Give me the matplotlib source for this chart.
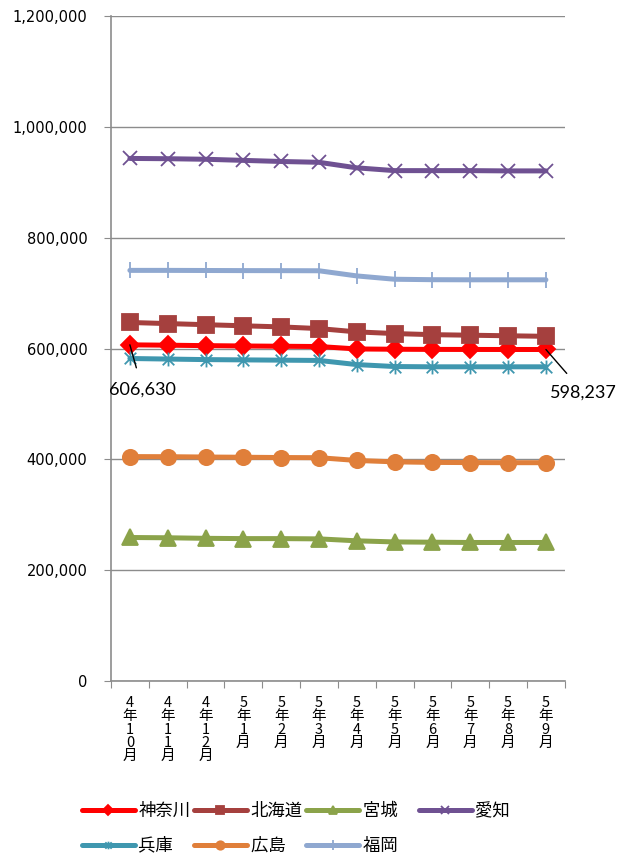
import numpy as np
import matplotlib.pyplot as plt
from matplotlib.path import Path
from matplotlib.ticker import FuncFormatter

plt.rcParams["font.family"] = ["Noto Sans CJK JP", "DejaVu Sans"]

months = ["4\n年\n1\n0\n月", "4\n年\n1\n1\n月", "4\n年\n1\n2\n月", "5\n年\n1\n月",
          "5\n年\n2\n月", "5\n年\n3\n月", "5\n年\n4\n月", "5\n年\n5\n月",
          "5\n年\n6\n月", "5\n年\n7\n月", "5\n年\n8\n月", "5\n年\n9\n月"]

kanagawa = [606630, 606000, 605200, 604600, 604100, 603600, 599200, 598700, 598400, 598300, 598250, 598237]
hokkaido = [647000, 645000, 643000, 641000, 639000, 636000, 630000, 627000, 625000, 624000, 623000, 622000]
miyagi = [259000, 258500, 257500, 257000, 257000, 256500, 253000, 251000, 250500, 250000, 250000, 250000]
aichi = [943000, 942500, 941500, 939500, 937500, 936000, 926000, 921000, 921000, 921000, 920500, 920500]
hyogo = [582000, 581000, 580000, 579500, 579000, 578500, 571000, 567500, 567000, 567000, 567000, 567000]
hiroshima = [405000, 404800, 404200, 403800, 403300, 403000, 398000, 395500, 394500, 394200, 394000, 394000]
fukuoka = [741000, 741000, 740800, 740600, 740500, 740300, 731000, 725000, 724200, 724000, 724000, 724000]

# Excel-style star marker: an x with a vertical stroke
star = Path([(-1, -1), (1, 1), (-1, 1), (1, -1), (0, -1.2), (0, 1.2)],
            [Path.MOVETO, Path.LINETO, Path.MOVETO, Path.LINETO, Path.MOVETO, Path.LINETO])

series = [
    ("神奈川", kanagawa, "#FF0000", "D", 9),
    ("北海道", hokkaido, "#A5403E", "s", 11),
    ("宮城", miyagi, "#8BA34A", "^", 11),
    ("愛知", aichi, "#6F5192", "x", 10),
    ("兵庫", hyogo, "#3F97AF", star, 10),
    ("広島", hiroshima, "#E07F3A", "o", 11),
    ("福岡", fukuoka, "#8FA8D0", "|", 12),
]

fig = plt.figure(figsize=(6.2, 8.56), dpi=100)
ax = fig.add_axes([0.179, 0.2044, 0.732, 0.7769])

x = np.arange(len(months))
handles = {}
for name, vals, color, marker, ms in series:
    line, = ax.plot(x, vals, color=color, linewidth=3.6, marker=marker, markersize=ms,
                    markerfacecolor=color, markeredgecolor=color, markeredgewidth=1.3,
                    label=name, solid_capstyle="round")
    handles[name] = line

ax.set_ylim(0, 1200000)
ax.set_xlim(-0.5, len(months) - 0.5)
ax.set_yticks(np.arange(0, 1200001, 200000))
ax.yaxis.set_major_formatter(FuncFormatter(lambda v, p: f"{int(v):,}"))
ax.grid(True, axis="y", color="#8C8C8C", linewidth=1)
ax.set_axisbelow(True)
for s in ["top", "right"]:
    ax.spines[s].set_visible(False)
ax.spines["left"].set_color("#8C8C8C")
ax.spines["bottom"].set_color("#8C8C8C")
ax.spines["left"].set_linewidth(1.2)
ax.spines["bottom"].set_linewidth(1.2)
ax.tick_params(axis="y", length=5, color="#8C8C8C", direction="out", pad=12)
for lbl in ax.get_yticklabels():
    lbl.set_fontfamily("DejaVu Sans")
    lbl.set_fontsize(10.5)

ax.set_xticks(np.arange(-0.5, len(months), 1))
ax.set_xticklabels([])
ax.tick_params(axis="x", which="major", length=5, color="#8C8C8C", direction="out")
ax.set_xticks(x, minor=True)
ax.set_xticklabels(months, minor=True, fontsize=10.5, linespacing=0.92, va="top")
ax.tick_params(axis="x", which="minor", length=0, pad=11)

ax.annotate(f"{kanagawa[0]:,}", xy=(0, kanagawa[0]), xytext=(9, -32),
            textcoords="offset points", ha="center", va="center", fontsize=13,
            family="Lato",
            arrowprops=dict(arrowstyle="-", color="black", lw=1, shrinkA=8, shrinkB=0))
ax.annotate(f"{kanagawa[-1]:,}", xy=(11, kanagawa[-1]), xytext=(27, -31),
            textcoords="offset points", ha="center", va="center", fontsize=13,
            family="Lato",
            arrowprops=dict(arrowstyle="-", color="black", lw=1, shrinkA=8, shrinkB=0))

# pad the two-character labels with an ideographic space so columns are equal width
order = ["神奈川", "兵庫", "北海道", "広島", "宮城", "福岡", "愛知"]
labels = [n if len(n) == 3 else n + "\u3000" for n in order]
fig.legend([handles[n] for n in order], labels, loc="upper left",
           bbox_to_anchor=(0.112, 0.077), ncol=4, frameon=False, fontsize=12.5,
           handlelength=3.05, handletextpad=0.22, columnspacing=0.2, labelspacing=0.95,
           markerscale=0.55, borderpad=0.2)

fig.savefig("out.png", dpi=100)
